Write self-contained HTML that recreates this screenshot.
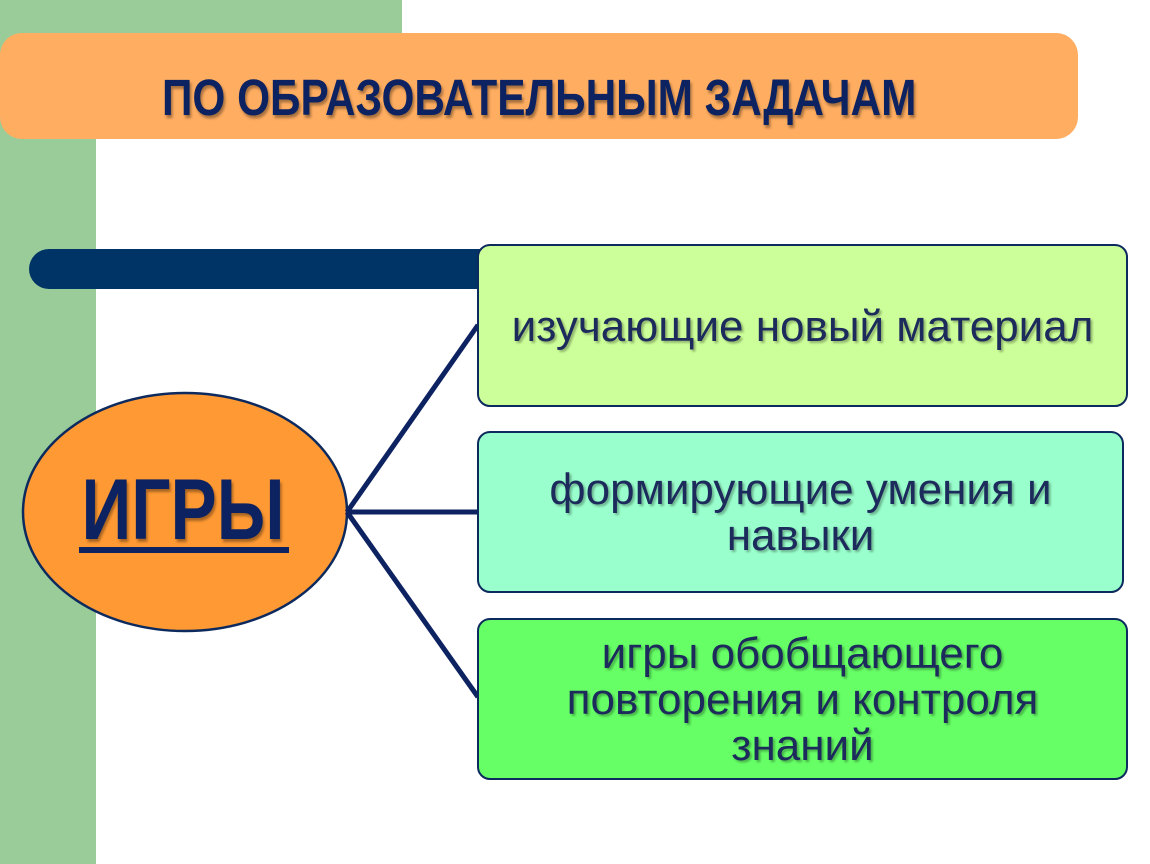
<!DOCTYPE html>
<html><head><meta charset="utf-8"><style>
body{margin:0;width:1150px;height:864px;position:relative;background:#fff;overflow:hidden;font-family:"Liberation Sans",sans-serif}
div{position:absolute;box-sizing:border-box}
.box{left:477px;border:2.5px solid #0d2a5e;border-radius:13px;display:flex;align-items:center;justify-content:center;text-align:center;color:#1c2b5c;font-size:44px;line-height:46px;text-shadow:2px 2px 2px rgba(0,0,0,.3);padding-top:2px}
</style></head><body>
<div style="left:0;top:0;width:402px;height:40px;background:#99cc99"></div>
<div style="left:0;top:0;width:96px;height:864px;background:#99cc99"></div>
<div style="left:0;top:33px;width:1078px;height:106px;background:#ffad60;border-radius:22px;color:#0d2260;font-weight:bold;font-size:51px;line-height:106px;text-shadow:2px 3px 3px rgba(0,0,0,.35)"><span style="position:absolute;left:162px;top:12px;transform:scaleX(0.83);transform-origin:left;white-space:nowrap">ПО ОБРАЗОВАТЕЛЬНЫМ ЗАДАЧАМ</span></div>
<div style="left:29px;top:249px;width:460px;height:40px;background:#003366;border-radius:20px 0 0 20px"></div>
<svg style="position:absolute;left:0;top:0" width="1150" height="864">
<ellipse cx="185" cy="512" rx="162" ry="119" fill="#ff9933" stroke="#0d2a5e" stroke-width="2.5"/>
<g stroke="#0d2260" stroke-width="5" fill="none"><line x1="347" y1="512" x2="478" y2="325"/><line x1="347" y1="512" x2="478" y2="512"/><line x1="347" y1="512" x2="478" y2="697"/></g>
<text x="183" y="539" text-anchor="middle" font-family="Liberation Sans" font-weight="bold" font-size="86" fill="#0d2260" textLength="203" lengthAdjust="spacingAndGlyphs" style="text-shadow:2px 3px 3px rgba(0,0,0,.35)">ИГРЫ</text>
<rect x="79" y="547" width="210" height="6" fill="#0d2260"/>
</svg>
<div class="box" style="top:244px;width:651px;height:163px;background:#ccff99">изучающие новый материал</div>
<div class="box" style="top:431px;width:647px;height:162px;background:#99ffcc">формирующие умения и<br>навыки</div>
<div class="box" style="top:618px;width:651px;height:162px;background:#66ff66">игры обобщающего<br>повторения и контроля<br>знаний</div>
</body></html>
